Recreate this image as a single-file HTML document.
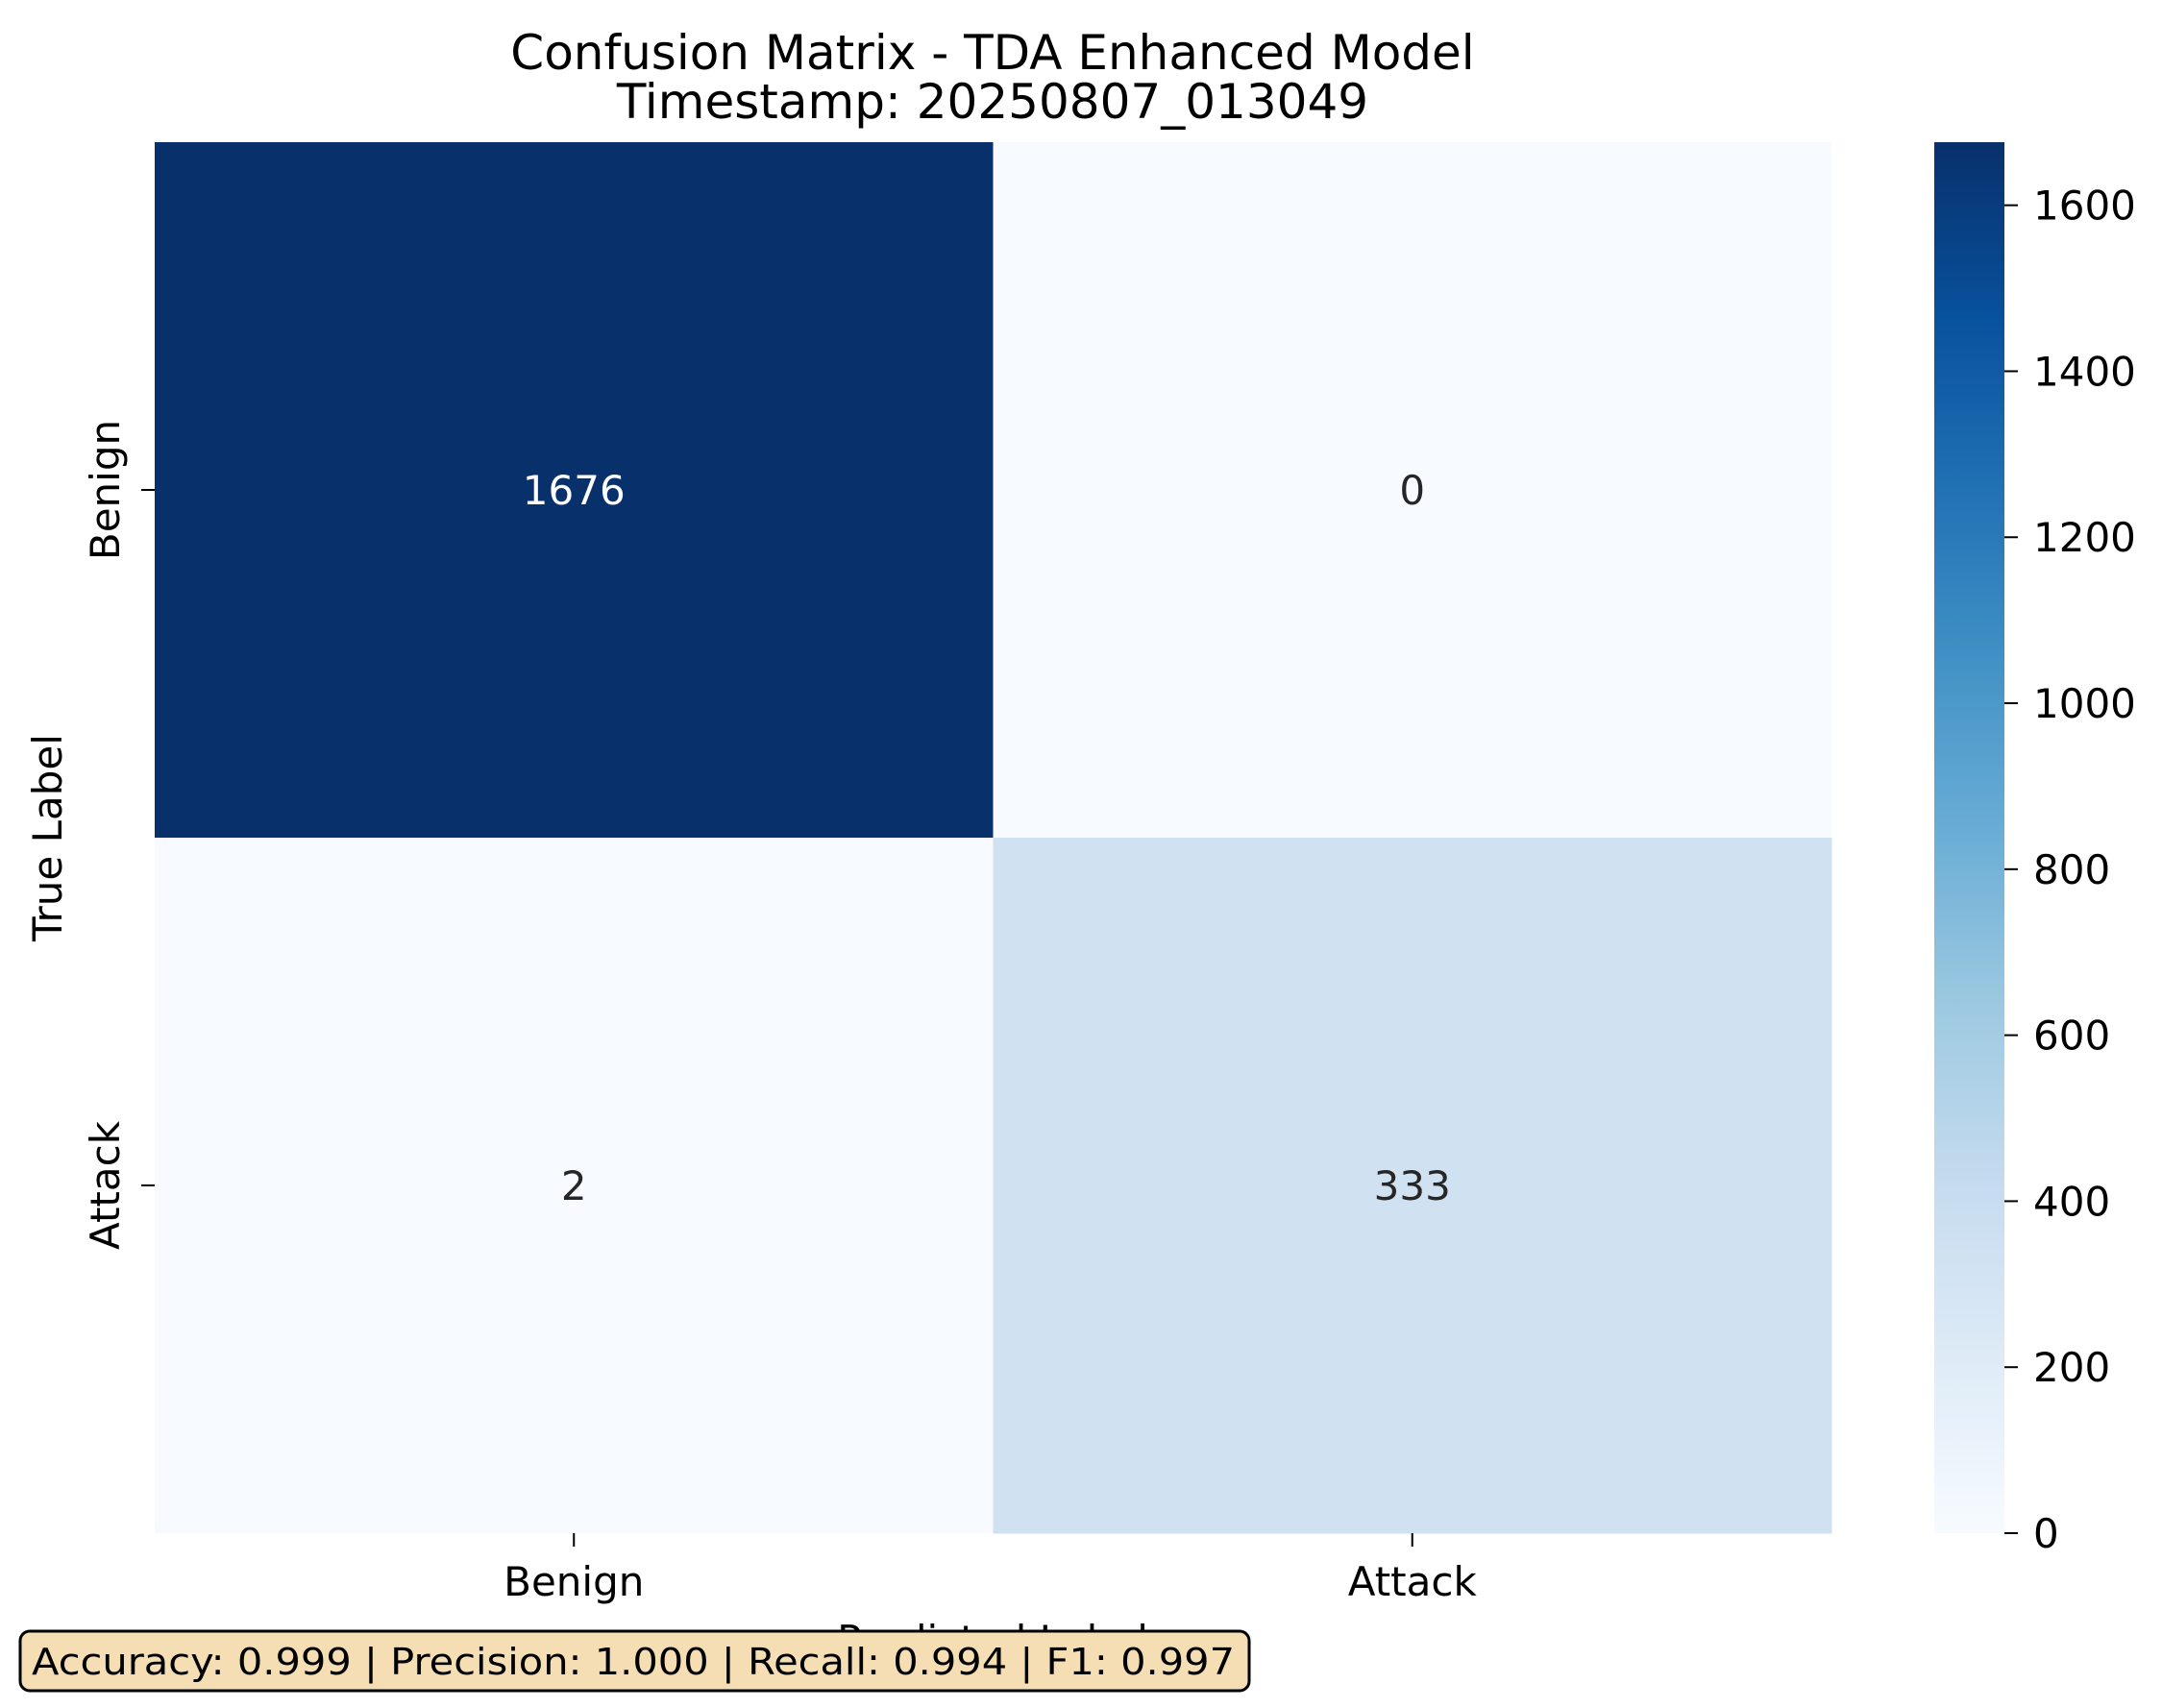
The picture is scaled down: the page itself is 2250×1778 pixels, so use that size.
<!DOCTYPE html>
<html><head><meta charset="utf-8"><style>
html,body{margin:0;padding:0;background:#fff;}
svg{display:block;font-family:"DejaVu Sans","Liberation Sans",sans-serif;}
</style></head><body>
<svg id="chart" width="2250" height="1778" viewBox="0 0 2250 1778" xmlns="http://www.w3.org/2000/svg">
<defs>
<linearGradient id="blues" x1="0" y1="1" x2="0" y2="0">
<stop offset="0" stop-color="#f7fbff"/><stop offset="0.125" stop-color="#deebf7"/><stop offset="0.25" stop-color="#c6dbef"/><stop offset="0.375" stop-color="#9ecae1"/><stop offset="0.5" stop-color="#6baed6"/><stop offset="0.625" stop-color="#4292c6"/><stop offset="0.75" stop-color="#2171b5"/><stop offset="0.875" stop-color="#08519c"/><stop offset="1" stop-color="#08306b"/>
</linearGradient>
</defs>
<text x="1033" y="72" font-size="50" text-anchor="middle" fill="#000">Confusion Matrix - TDA Enhanced Model</text>
<text x="1033" y="123" font-size="50" text-anchor="middle" fill="#000">Timestamp: 20250807_013049</text>
<g id="cells"></g>
<g id="axes"></g>
<rect x="2013" y="148" width="73" height="1448" fill="url(#blues)"/>
<g id="cbar"></g>
<text transform="translate(64,872) rotate(-90)" font-size="42" text-anchor="middle" fill="#000">True Label</text>
<text x="1033" y="1722" font-size="42" text-anchor="middle" fill="#000">Predicted Label</text>
<g>
<rect x="21" y="1698" width="1279" height="62" rx="10" ry="10" fill="#f5deb3" stroke="#000" stroke-width="3"/>
<text x="33" y="1743" font-size="38" fill="#000" textLength="1252" lengthAdjust="spacingAndGlyphs">Accuracy: 0.999 | Precision: 1.000 | Recall: 0.994 | F1: 0.997</text>
</g>
</svg>
<script>
const categories = ["Benign", "Attack"];
const rowBenign = [1676, 0];
const rowAttack = [2, 333];
const matrix = [rowBenign, rowAttack];
const cbarTicks = [0, 200, 400, 600, 800, 1000, 1200, 1400, 1600];

const NS = "http://www.w3.org/2000/svg";
const L = 161, R = 1906, T = 148, B = 1596;
const vmax = Math.max(...matrix.flat());
const vmin = 0;
const n = categories.length;
const cw = (R - L) / n, ch = (B - T) / n;
const xOf = i => L + i * cw;
const yOf = i => T + i * ch;
const cbY = v => B - (v - vmin) / (vmax - vmin) * (B - T);
const stops = ["#f7fbff","#deebf7","#c6dbef","#9ecae1","#6baed6","#4292c6","#2171b5","#08519c","#08306b"];
function hex(h){return [1,3,5].map(k=>parseInt(h.substr(k,2),16));}
function color(v){
  let t = (v - vmin) / (vmax - vmin); t = Math.max(0, Math.min(1, t));
  const p = t * (stops.length - 1), i = Math.min(Math.floor(p), stops.length - 2), f = p - i;
  const a = hex(stops[i]), b = hex(stops[i+1]);
  const c = a.map((x,k)=>Math.round(x + (b[k]-x)*f));
  return {str:"rgb("+c.join(",")+")", lum:(0.299*c[0]+0.587*c[1]+0.114*c[2])/255};
}
function mk(tag, attrs, parent){const e=document.createElementNS(NS,tag);for(const k in attrs)e.setAttribute(k,attrs[k]);parent.appendChild(e);return e;}
const cells = document.getElementById("cells");
const axes = document.getElementById("axes");
const cbar = document.getElementById("cbar");
for (let r = 0; r < n; r++) {
  for (let c = 0; c < n; c++) {
    const v = matrix[r][c];
    const col = color(v);
    const rect = mk("rect", {x:xOf(c), y:yOf(r), width:cw+0.5, height:ch+0.5, fill:col.str}, cells);
    
    
    const t = mk("text", {x:xOf(c)+cw/2, y:yOf(r)+ch/2+15, "font-size":42, "text-anchor":"middle", fill: col.lum < 0.5 ? "#ffffff" : "#262626"}, cells);
    t.textContent = v;
    
    
  }
}
categories.forEach((cat, i) => {
  const cx = xOf(i) + cw/2;
  const tk = mk("line", {x1:cx, y1:B, x2:cx, y2:B+14, stroke:"#000", "stroke-width":2}, axes);
  
  
  const lx = mk("text", {x:cx, y:1661, "font-size":42, "text-anchor":"middle", fill:"#000"}, axes);
  lx.textContent = cat;
  
  
  const cy = yOf(i) + ch/2;
  const ty = mk("line", {x1:L-14, y1:cy, x2:L, y2:cy, stroke:"#000", "stroke-width":2}, axes);
  
  
  const ly = mk("text", {transform:"translate(124," + cy + ") rotate(-90)", "font-size":42, "text-anchor":"middle", fill:"#000"}, axes);
  ly.textContent = cat;
  
  
});
cbarTicks.forEach(v => {
  const y = cbY(v);
  const tk = mk("line", {x1:2086, y1:y, x2:2100, y2:y, stroke:"#000", "stroke-width":2}, cbar);
  
  
  const t = mk("text", {x:2116, y:y+15, "font-size":42, fill:"#000"}, cbar);
  t.textContent = v;
  
  
});
</script>
</body></html>
